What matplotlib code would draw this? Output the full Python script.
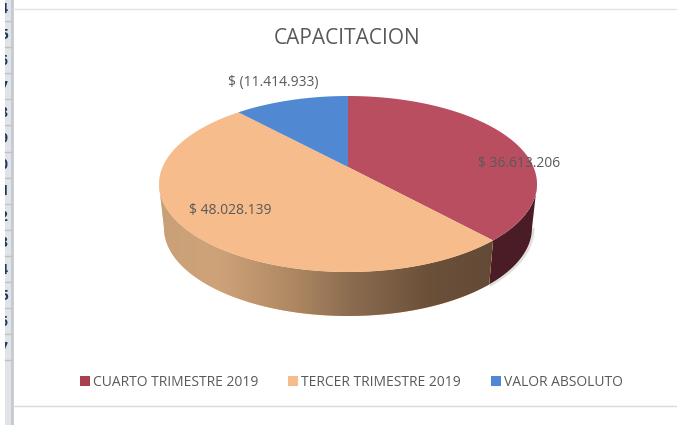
import numpy as np
from matplotlib import pyplot as plt
from matplotlib.colors import LinearSegmentedColormap
from matplotlib.patches import Rectangle

title = 'CAPACITACION'
categories = ['CUARTO TRIMESTRE 2019', 'TERCER TRIMESTRE 2019', 'VALOR ABSOLUTO']
values = [36613206, 48028139, -11414933]
labels = ['$ 36.613.206', '$ 48.028.139', '$ (11.414.933)']
colors = ['#B94E60', '#F6BC8B', '#5188D2']
row_digits = ['4', '5', '6', '7', '8', '9', '0', '1', '2', '3', '4', '5', '6', '7']

W, H = 677, 425
cx, cy, rx, ry = 348, 184, 189, 88
apex_y = 167
bot_cy, bot_rx = 228, 184
text_col = '#595959'

plt.rcParams['font.family'] = ['Open Sans', 'DejaVu Sans']

fig = plt.figure(figsize=(W / 100, H / 100), dpi=100)
ax = fig.add_axes([0, 0, 1, 1])
ax.set_xlim(0, W)
ax.set_ylim(H, 0)
ax.axis('off')


# clockwise angle from 12 o'clock, pushed a bit for the 3d perspective
def warp(a):
    return a - np.radians(10.8) * np.sin(a)


def top(t):
    return cx + rx * np.sin(t), cy - ry * np.cos(t)


def bottom(t):
    return cx + bot_rx * np.sin(t), bot_cy - ry * np.cos(t)


# excel window bits
gutter = Rectangle((5, 0), 7, H, color='#E0E3E8', lw=0)
ax.add_patch(gutter)
ax.plot([12, 12], [0, H], color='#C6CACF', lw=2)
for i, d in enumerate(row_digits):
    ax.plot([5, 11], [21 + i * 26.1] * 2, color='#BFC3C8', lw=1)
    tx = ax.text(7.8, 8.5 + i * 26.1, d, fontsize=10, color='#1F3A5C', ha='right',
                 va='center', fontweight='bold', clip_on=True)
    tx.set_clip_path(gutter)
ax.plot([13, W], [9, 9], color='#E2E2E2', lw=1)
ax.plot([13, W], [406, 406], color='#DADADA', lw=1)

fr = np.abs(values) / np.sum(np.abs(values))
edges = warp(np.concatenate([[0], np.cumsum(fr)]) * 2 * np.pi)

# soft shadow at the right of the wall
for off, al in [(2, 0.05), (1, 0.10)]:
    t = np.linspace(np.pi / 2, edges[1], 60)
    x, y = bottom(t)
    ax.plot(x + off, y + off / 2, color='black', alpha=al, lw=1.5, zorder=1)

# side wall, only the front half shows
wall_cols = [(0, '#C8A078'), (0.17, '#CFA37A'), (0.4, '#AE8862'),
             (0.58, '#8A6B50'), (0.8, '#6C5139'), (1, '#634A37')]
cmap = LinearSegmentedColormap.from_list('wall', wall_cols)
t = np.linspace(np.pi / 2, edges[1], 100)
xt, yt = top(t)
xb, yb = bottom(t)
ax.fill(np.r_[xt, xb[::-1]], np.r_[yt, yb[::-1]], color='#4A1D26', lw=0, zorder=2)

t = np.linspace(edges[1], 3 * np.pi / 2, 200)
xt, yt = top(t)
xb, yb = bottom(t)
poly = ax.fill(np.r_[xt, xb[::-1]], np.r_[yt, yb[::-1]], color=colors[1], lw=0, zorder=2)[0]
im = ax.imshow(np.linspace(0, 1, 256)[None, :], cmap=cmap, aspect='auto',
               extent=[xt.min(), xt.max(), yb.max(), yt.min()], zorder=2.1)
im.set_clip_path(poly)
ax.set_xlim(0, W)
ax.set_ylim(H, 0)

# top face
for i in range(3):
    t = np.linspace(edges[i], edges[i + 1], 200)
    x, y = top(t)
    ax.fill(np.r_[cx, x], np.r_[apex_y, y], color=colors[i], lw=0, zorder=3)

ax.text(347, 38, title, fontsize=15, color=text_col, ha='center', va='center', zorder=5)
ax.text(519.5, 163, labels[0], fontsize=10, color=text_col, ha='center', va='center', zorder=5)
ax.text(230, 210, labels[1], fontsize=10, color=text_col, ha='center', va='center', zorder=5)
ax.text(273, 82, labels[2], fontsize=10, color=text_col, ha='center', va='center', zorder=5)

# legend
leg_x = [80, 288, 491]
txt_x = [93, 301, 504]
leg_cols = ['#A8404F', colors[1], colors[2]]
for i in range(3):
    ax.add_patch(Rectangle((leg_x[i], 376), 10, 10, facecolor=leg_cols[i], lw=0, zorder=5))
    ax.text(txt_x[i], 382, categories[i], fontsize=10, color=text_col,
            ha='left', va='center', zorder=5)

fig.savefig('out.png', dpi=100)
